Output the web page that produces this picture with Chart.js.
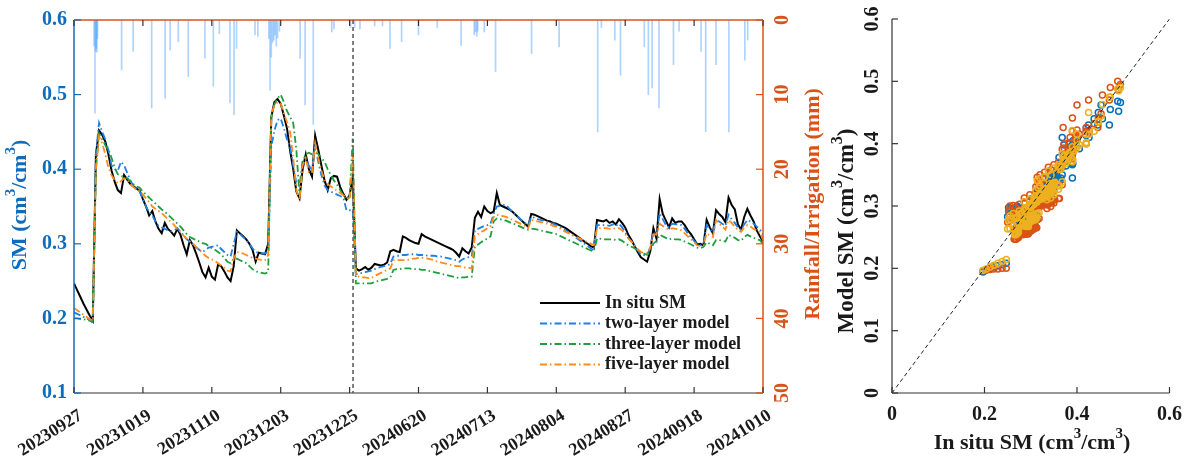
<!DOCTYPE html>
<html>
<head>
<meta charset="utf-8">
<script src="https://cdn.jsdelivr.net/npm/chart.js@4.4.1/dist/chart.umd.min.js"></script>
<style>
body { margin: 0; background: #fff; width: 1192px; height: 464px; overflow: hidden; position: relative; }
#ts { position: absolute; left: 0; top: 0; }
#sc { position: absolute; left: 820px; top: 0; }
</style>
</head>
<body>
<canvas id="ts" width="840" height="464"></canvas>
<canvas id="sc" width="372" height="464"></canvas>
<script>
// x positions are day steps, one label every 22 steps
const dateLabels = ["20230927", "20231019", "20231110", "20231203", "20231225", "20240620",
    "20240713", "20240804", "20240827", "20240918", "20241010"];
const dateStep = 22;
const breakAt = 89.1; // dashed line between the two campaigns

const smTicks = [0.1, 0.2, 0.3, 0.4, 0.5, 0.6];
const rainTicks = [0, 10, 20, 30, 40, 50];
const scXTicks = [0, 0.2, 0.4, 0.6];
const scXLabels = ["0", "0.2", "0.4", "0.6"];
const scYTicks = [0, 0.1, 0.2, 0.3, 0.4, 0.5, 0.6];
const scYLabels = ["0", "0.1", "0.2", "0.3", "0.4", "0.5", "0.6"];
const oneToOne = [0, 0.6];

const insitu = [
    0.247, 0.238, 0.229, 0.220, 0.212, 0.204, 0.197, 0.420, 0.452, 0.446,
    0.437, 0.420, 0.398, 0.383, 0.372, 0.368, 0.392, 0.386, 0.380, 0.377,
    0.374, 0.371, 0.360, 0.350, 0.338, 0.344, 0.330, 0.320, 0.314, 0.328,
    0.320, 0.316, 0.311, 0.320, 0.312, 0.298, 0.286, 0.305, 0.298, 0.287,
    0.275, 0.262, 0.255, 0.268, 0.256, 0.252, 0.272, 0.270, 0.263, 0.255,
    0.250, 0.270, 0.318, 0.314, 0.310, 0.306, 0.300, 0.292, 0.276, 0.288,
    0.287, 0.286, 0.300, 0.470, 0.490, 0.494, 0.488, 0.472, 0.455, 0.425,
    0.400, 0.370, 0.361, 0.400, 0.420, 0.400, 0.390, 0.445, 0.426, 0.405,
    0.385, 0.372, 0.388, 0.391, 0.390, 0.376, 0.367, 0.359, 0.365, 0.390,
    0.267, 0.264, 0.266, 0.269, 0.265, 0.268, 0.273, 0.272, 0.271, 0.272,
    0.275, 0.290, 0.292, 0.290, 0.289, 0.310, 0.308, 0.305, 0.303, 0.301,
    0.300, 0.313, 0.310, 0.308, 0.306, 0.304, 0.302, 0.300, 0.298, 0.296,
    0.294, 0.292, 0.288, 0.283, 0.294, 0.290, 0.287, 0.295, 0.335, 0.343,
    0.336, 0.350, 0.344, 0.341, 0.343, 0.368, 0.352, 0.350, 0.348, 0.346,
    0.343, 0.339, 0.335, 0.331, 0.327, 0.323, 0.340, 0.339, 0.337, 0.335,
    0.333, 0.331, 0.330, 0.328, 0.327, 0.325, 0.323, 0.321, 0.318, 0.315,
    0.312, 0.309, 0.306, 0.303, 0.300, 0.297, 0.295, 0.332, 0.331, 0.330,
    0.332, 0.328, 0.330, 0.326, 0.333, 0.328, 0.322, 0.312, 0.305, 0.297,
    0.289, 0.282, 0.279, 0.276, 0.290, 0.321, 0.307, 0.360, 0.340, 0.331,
    0.322, 0.334, 0.328, 0.330, 0.330, 0.325, 0.318, 0.313, 0.306, 0.299,
    0.300, 0.298, 0.332, 0.322, 0.314, 0.345, 0.340, 0.336, 0.329, 0.362,
    0.352, 0.346, 0.326, 0.319, 0.336, 0.347, 0.338, 0.330, 0.318, 0.310,
    0.303
];
const twoLayer = [
    0.208, 0.206, 0.204, 0.202, 0.200, 0.198, 0.194, 0.420, 0.462, 0.450,
    0.440, 0.425, 0.405, 0.400, 0.398, 0.410, 0.405, 0.395, 0.385, 0.378,
    0.373, 0.370, 0.360, 0.350, 0.342, 0.338, 0.330, 0.324, 0.322, 0.320,
    0.318, 0.317, 0.318, 0.321, 0.316, 0.311, 0.306, 0.303, 0.299, 0.295,
    0.292, 0.289, 0.292, 0.295, 0.296, 0.297, 0.298, 0.293, 0.289, 0.285,
    0.283, 0.300, 0.316, 0.313, 0.309, 0.305, 0.300, 0.294, 0.289, 0.288,
    0.287, 0.287, 0.290, 0.430, 0.452, 0.466, 0.468, 0.455, 0.440, 0.430,
    0.405, 0.381, 0.378, 0.410, 0.413, 0.405, 0.398, 0.430, 0.410, 0.392,
    0.378, 0.372, 0.370, 0.368, 0.366, 0.364, 0.362, 0.345, 0.345, 0.345,
    0.259, 0.260, 0.261, 0.262, 0.263, 0.264, 0.266, 0.268, 0.269, 0.270,
    0.271, 0.273, 0.283, 0.284, 0.284, 0.285, 0.285, 0.286, 0.286, 0.286,
    0.285, 0.285, 0.285, 0.284, 0.284, 0.284, 0.283, 0.283, 0.282, 0.281,
    0.280, 0.279, 0.278, 0.276, 0.279, 0.281, 0.282, 0.283, 0.318, 0.320,
    0.322, 0.324, 0.325, 0.327, 0.340, 0.350, 0.351, 0.352, 0.352, 0.347,
    0.343, 0.339, 0.335, 0.331, 0.328, 0.325, 0.336, 0.335, 0.333, 0.332,
    0.331, 0.330, 0.328, 0.327, 0.325, 0.323, 0.321, 0.318, 0.315, 0.312,
    0.309, 0.306, 0.303, 0.300, 0.297, 0.294, 0.291, 0.325, 0.325, 0.325,
    0.325, 0.324, 0.326, 0.324, 0.327, 0.322, 0.316, 0.308, 0.303, 0.297,
    0.291, 0.286, 0.285, 0.285, 0.295, 0.316, 0.310, 0.341, 0.333, 0.325,
    0.322, 0.327, 0.326, 0.326, 0.325, 0.320, 0.314, 0.309, 0.304, 0.299,
    0.298, 0.300, 0.325, 0.320, 0.315, 0.332, 0.330, 0.327, 0.324, 0.339,
    0.333, 0.328, 0.322, 0.319, 0.326, 0.332, 0.330, 0.327, 0.323, 0.320,
    0.312
];
const threeLayer = [
    0.200, 0.200, 0.199, 0.199, 0.198, 0.197, 0.196, 0.400, 0.448, 0.440,
    0.432, 0.426, 0.415, 0.402, 0.393, 0.391, 0.390, 0.388, 0.384, 0.380,
    0.377, 0.375, 0.370, 0.366, 0.362, 0.358, 0.354, 0.350, 0.346, 0.343,
    0.339, 0.335, 0.331, 0.327, 0.323, 0.318, 0.313, 0.309, 0.307, 0.305,
    0.303, 0.301, 0.300, 0.297, 0.294, 0.292, 0.289, 0.286, 0.281, 0.276,
    0.274, 0.280, 0.280, 0.278, 0.276, 0.274, 0.270, 0.266, 0.263, 0.262,
    0.261, 0.260, 0.262, 0.470, 0.487, 0.495, 0.500, 0.490, 0.478, 0.470,
    0.462, 0.426, 0.365, 0.410, 0.420, 0.422, 0.420, 0.426, 0.420, 0.415,
    0.410, 0.400, 0.392, 0.385, 0.379, 0.372, 0.365, 0.359, 0.363, 0.441,
    0.247, 0.247, 0.247, 0.247, 0.247, 0.247, 0.249, 0.250, 0.251, 0.252,
    0.253, 0.255, 0.265, 0.266, 0.266, 0.267, 0.267, 0.267, 0.266, 0.266,
    0.266, 0.265, 0.265, 0.264, 0.263, 0.262, 0.261, 0.260, 0.259, 0.258,
    0.257, 0.256, 0.255, 0.254, 0.255, 0.255, 0.256, 0.256, 0.296, 0.299,
    0.302, 0.305, 0.307, 0.310, 0.330, 0.334, 0.333, 0.332, 0.331, 0.329,
    0.327, 0.326, 0.324, 0.322, 0.320, 0.319, 0.320, 0.320, 0.319, 0.318,
    0.317, 0.316, 0.315, 0.314, 0.313, 0.311, 0.309, 0.307, 0.305, 0.303,
    0.301, 0.299, 0.297, 0.295, 0.293, 0.291, 0.290, 0.307, 0.307, 0.306,
    0.306, 0.306, 0.306, 0.305, 0.306, 0.304, 0.301, 0.298, 0.296, 0.294,
    0.291, 0.289, 0.287, 0.285, 0.290, 0.300, 0.304, 0.312, 0.310, 0.308,
    0.306, 0.307, 0.306, 0.306, 0.305, 0.303, 0.301, 0.299, 0.297, 0.295,
    0.294, 0.296, 0.302, 0.300, 0.298, 0.305, 0.305, 0.304, 0.303, 0.312,
    0.310, 0.308, 0.305, 0.304, 0.309, 0.312, 0.310, 0.308, 0.306, 0.305,
    0.300
];
const fiveLayer = [
    0.214, 0.211, 0.208, 0.205, 0.202, 0.199, 0.197, 0.400, 0.444, 0.435,
    0.420, 0.402, 0.392, 0.385, 0.381, 0.384, 0.388, 0.385, 0.380, 0.376,
    0.373, 0.371, 0.366, 0.361, 0.356, 0.350, 0.347, 0.344, 0.341, 0.337,
    0.333, 0.329, 0.325, 0.320, 0.316, 0.311, 0.307, 0.303, 0.300, 0.296,
    0.292, 0.288, 0.284, 0.281, 0.279, 0.277, 0.274, 0.271, 0.268, 0.264,
    0.263, 0.280, 0.289, 0.288, 0.287, 0.285, 0.283, 0.281, 0.280, 0.279,
    0.278, 0.278, 0.285, 0.475, 0.485, 0.490, 0.488, 0.475, 0.463, 0.450,
    0.415, 0.372, 0.359, 0.405, 0.415, 0.396, 0.395, 0.435, 0.415, 0.398,
    0.386, 0.380, 0.377, 0.374, 0.371, 0.368, 0.365, 0.363, 0.359, 0.421,
    0.257, 0.256, 0.255, 0.255, 0.254, 0.254, 0.257, 0.259, 0.261, 0.263,
    0.265, 0.267, 0.278, 0.278, 0.278, 0.278, 0.278, 0.279, 0.280, 0.280,
    0.281, 0.281, 0.281, 0.280, 0.279, 0.278, 0.276, 0.275, 0.274, 0.273,
    0.272, 0.271, 0.270, 0.270, 0.269, 0.268, 0.268, 0.267, 0.310, 0.313,
    0.316, 0.318, 0.321, 0.324, 0.336, 0.339, 0.338, 0.337, 0.336, 0.334,
    0.332, 0.330, 0.328, 0.326, 0.324, 0.321, 0.332, 0.331, 0.330, 0.329,
    0.328, 0.327, 0.326, 0.324, 0.323, 0.321, 0.318, 0.316, 0.314, 0.312,
    0.310, 0.308, 0.306, 0.304, 0.302, 0.300, 0.298, 0.321, 0.321, 0.321,
    0.321, 0.320, 0.321, 0.320, 0.321, 0.318, 0.313, 0.307, 0.303, 0.298,
    0.293, 0.289, 0.288, 0.287, 0.295, 0.312, 0.313, 0.327, 0.324, 0.321,
    0.319, 0.321, 0.320, 0.320, 0.318, 0.314, 0.310, 0.306, 0.302, 0.298,
    0.297, 0.298, 0.314, 0.311, 0.309, 0.332, 0.327, 0.323, 0.319, 0.332,
    0.328, 0.323, 0.318, 0.316, 0.322, 0.325, 0.323, 0.320, 0.318, 0.316,
    0.305
];

// rainfall / irrigation events: position (day step) and depth in mm
const rainAt = [6.4, 6.7, 6.9, 7.1, 7.3, 7.5, 15.2, 18.9, 24.8, 29.1, 30.7, 33.3, 36.5, 41.8,
    44.5, 46.4, 49.8, 51.1, 51.9, 57.8, 58.7, 62.2, 62.6, 63.0, 63.4, 63.8, 64.2, 64.6, 65.0,
    65.6, 72.2, 73.8, 76.4, 82.3, 83.0, 88.3, 89.6, 91.3, 96.0, 98.5, 100.9, 104.6, 110.0,
    116.0, 123.6, 127.8, 128.2, 128.6, 128.9, 131.0, 134.6, 146.1, 154.9, 167.2, 168.4,
    172.7, 174.5, 182.1, 183.4, 184.6, 186.8, 191.4, 193.2, 200.2, 201.7, 205.0, 209.1,
    214.2, 215.1];
const rainMm = [3.5, 12.5, 4.2, 3.8, 4.3, 2.5, 6.7, 4.2, 11.8, 10.5, 4.0, 2.9, 7.6, 5.1,
    8.9, 1.8, 11.1, 12.7, 3.8, 2.0, 2.2, 2.5, 9.4, 5.0, 3.0, 2.7, 2.0, 3.5, 2.4,
    1.5, 5.1, 11.4, 14.0, 1.6, 1.2, 1.0, 1.0, 1.2, 0.8, 0.8, 3.8, 2.9, 2.0,
    1.0, 3.4, 2.0, 1.6, 2.2, 1.5, 1.6, 6.9, 4.5, 3.6, 15.0, 1.0,
    2.7, 7.4, 3.6, 10.0, 9.1, 11.8, 6.0, 1.5, 4.2, 15.0, 6.0, 15.0,
    5.4, 2.7];

const FONT = '"Liberation Serif", "Times New Roman", serif';
const SM_BLUE = "#0F6CBD";
const RAIN_RED = "#D95319";
const AXIS_GRAY = "#333333";
const TEXT = "#1a1a1a";

Chart.defaults.font.family = FONT;
Chart.defaults.font.weight = "bold";
Chart.defaults.font.size = 20;
Chart.defaults.color = TEXT;
Chart.defaults.animation = false;

const seriesStyle = [
    { label: "In situ SM", data: insitu, color: "#000000", dash: [], width: 2 },
    { label: "two-layer model", data: twoLayer, color: "#1F7FE5", dash: [7, 3, 1.5, 3], width: 1.8 },
    { label: "three-layer model", data: threeLayer, color: "#1E9E3E", dash: [7, 3, 1.5, 3], width: 1.8 },
    { label: "five-layer model", data: fiveLayer, color: "#FF8C1A", dash: [7, 3, 1.5, 3], width: 1.8 }
];

const unitParts = [{ t: " (cm" }, { t: "3", sup: true }, { t: "/cm" }, { t: "3", sup: true }, { t: ")" }];

function stroke(ctx, x1, y1, x2, y2, color, width) {
    ctx.beginPath();
    ctx.strokeStyle = color;
    ctx.lineWidth = width || 1;
    ctx.moveTo(x1, y1);
    ctx.lineTo(x2, y2);
    ctx.stroke();
}

function rich_width(ctx, parts, size) {
    let w = 0;
    for (const p of parts) {
        ctx.font = "bold " + (p.sup ? Math.round(size * 0.68) : size) + "px " + FONT;
        w += ctx.measureText(p.t).width;
    }
    return w;
}

function draw_rich(ctx, parts, cx, cy, size, color, rot) {
    ctx.save();
    ctx.translate(cx, cy);
    ctx.rotate(rot || 0);
    ctx.fillStyle = color;
    ctx.textBaseline = "middle";
    ctx.textAlign = "left";
    let x = -rich_width(ctx, parts, size) / 2;
    for (const p of parts) {
        ctx.font = "bold " + (p.sup ? Math.round(size * 0.68) : size) + "px " + FONT;
        ctx.fillText(p.t, x, p.sup ? -size * 0.4 : 0);
        x += ctx.measureText(p.t).width;
    }
    ctx.restore();
}

function draw_text(ctx, text, cx, cy, size, color, rot) {
    draw_rich(ctx, [{ t: text }], cx, cy, size, color, rot);
}

const tsDecor = {
    id: "tsDecor",
    afterDraw(chart) {
        const ctx = chart.ctx;
        const a = chart.chartArea;
        const { x, y, y2 } = chart.scales;
        ctx.save();
        ctx.setLineDash([]);
        stroke(ctx, a.left, a.bottom, a.right, a.bottom, AXIS_GRAY, 1.2);
        stroke(ctx, a.left, a.top, a.right, a.top, RAIN_RED, 1.5);
        stroke(ctx, a.left, a.top, a.left, a.bottom, SM_BLUE, 1.5);
        stroke(ctx, a.right, a.top, a.right, a.bottom, RAIN_RED, 1.5);
        dateLabels.forEach((d, k) => {
            const px = x.getPixelForValue(k * dateStep);
            stroke(ctx, px, a.bottom, px, a.bottom - 6, AXIS_GRAY, 1.2);
            stroke(ctx, px, a.top, px, a.top + 6, AXIS_GRAY, 1.2);
        });
        smTicks.forEach(v => {
            const py = y.getPixelForValue(v);
            stroke(ctx, a.left, py, a.left + 7, py, SM_BLUE, 1.2);
        });
        rainTicks.forEach(v => {
            const py = y2.getPixelForValue(v);
            stroke(ctx, a.right - 7, py, a.right, py, RAIN_RED, 1.2);
            draw_text(ctx, String(v), a.right + 20, py, 20, RAIN_RED, -Math.PI / 2);
        });

        // break between the two periods
        ctx.setLineDash([4, 3]);
        const bx = x.getPixelForValue(breakAt);
        stroke(ctx, bx, a.top, bx, a.bottom, "#555555", 1.5);
        ctx.setLineDash([]);

        draw_rich(ctx, [{ t: "SM" }].concat(unitParts), 20, 205, 22, SM_BLUE, -Math.PI / 2);
        draw_text(ctx, "Rainfall/Irrigation (mm)", a.right + 50, 204, 22, RAIN_RED, -Math.PI / 2);

        // legend
        seriesStyle.forEach((s, k) => {
            const ly = 303 + k * 20.5;
            ctx.setLineDash(s.dash);
            stroke(ctx, 540, ly, 600, ly, s.color, s.width);
            ctx.setLineDash([]);
            ctx.font = "bold 18px " + FONT;
            ctx.fillStyle = TEXT;
            ctx.textAlign = "left";
            ctx.textBaseline = "middle";
            ctx.fillText(s.label, 605, ly);
        });
        ctx.restore();
    }
};

const tsDatasets = seriesStyle.map((s, k) => ({
    type: "line",
    label: s.label,
    data: s.data.map((v, i) => ({ x: i, y: v })),
    borderColor: s.color,
    borderWidth: s.width,
    borderDash: s.dash,
    pointRadius: 0,
    tension: 0,
    fill: false,
    yAxisID: "y",
    order: 4 - k
}));
tsDatasets.push({
    type: "bar",
    label: "Rainfall/Irrigation",
    data: rainAt.map((p, k) => ({ x: p, y: rainMm[k] })),
    backgroundColor: "rgba(60,150,255,0.42)",
    borderWidth: 0,
    barThickness: 1,
    yAxisID: "y2",
    order: 5
});

new Chart(document.getElementById("ts"), {
    type: "line",
    data: { datasets: tsDatasets },
    options: {
        responsive: false,
        devicePixelRatio: 1,
        layout: { padding: { top: 20, left: 0, right: 0, bottom: 0 } },
        plugins: { legend: { display: false }, tooltip: { enabled: false } },
        scales: {
            x: {
                type: "linear",
                offset: false,
                min: 0,
                max: dateStep * (dateLabels.length - 1),
                grid: { display: false, drawTicks: false, offset: false },
                border: { display: false },
                afterBuildTicks: s => { s.ticks = dateLabels.map((d, k) => ({ value: k * dateStep })); },
                afterFit: s => { s.height = 71; },
                ticks: {
                    autoSkip: false,
                    minRotation: 32,
                    maxRotation: 32,
                    padding: 12,
                    labelOffset: 7,
                    color: TEXT,
                    font: { size: 18, weight: "bold" },
                    callback: (v, idx) => dateLabels[idx]
                }
            },
            y: {
                type: "linear",
                position: "left",
                min: 0.1,
                max: 0.6,
                grid: { display: false, drawTicks: false },
                border: { display: false },
                afterBuildTicks: s => { s.ticks = smTicks.map(v => ({ value: v })); },
                afterFit: s => { s.width = 74; },
                ticks: {
                    padding: 7,
                    color: SM_BLUE,
                    font: { size: 20, weight: "bold" },
                    callback: v => v.toFixed(1)
                }
            },
            y2: {
                type: "linear",
                position: "right",
                reverse: true,
                min: 0,
                max: 50,
                grid: { display: false, drawTicks: false },
                border: { display: false },
                ticks: { display: false },
                afterFit: s => { s.width = 77; }
            }
        }
    },
    plugins: [tsDecor]
});

// scatter: model against in situ
const scatterStyle = [
    { data: twoLayer, color: "#0072BD", order: 4 },
    { data: threeLayer, color: "#D95319", order: 3 },
    { data: fiveLayer, color: "#EDB120", order: 2 }
];

const scDecor = {
    id: "scDecor",
    afterDraw(chart) {
        const ctx = chart.ctx;
        const a = chart.chartArea;
        const { x, y } = chart.scales;
        ctx.save();
        stroke(ctx, a.left, a.bottom, a.right, a.bottom, AXIS_GRAY, 1.2);
        stroke(ctx, a.left, a.top, a.left, a.bottom, AXIS_GRAY, 1.2);
        scXTicks.forEach(v => {
            const px = x.getPixelForValue(v);
            stroke(ctx, px, a.bottom, px, a.bottom - 6, AXIS_GRAY, 1.2);
        });
        scYTicks.forEach((v, k) => {
            const py = y.getPixelForValue(v);
            stroke(ctx, a.left, py, a.left + 6, py, AXIS_GRAY, 1.2);
            draw_text(ctx, scYLabels[k], a.left - 19, py, 20, TEXT, -Math.PI / 2);
        });
        draw_rich(ctx, [{ t: "Model SM" }].concat(unitParts), 27, 231, 23, TEXT, -Math.PI / 2);
        draw_rich(ctx, [{ t: "In situ SM" }].concat(unitParts), 212, 443, 22, TEXT, 0);
        ctx.restore();
    }
};

const scDatasets = scatterStyle.map(s => ({
    type: "scatter",
    data: insitu.map((v, i) => ({ x: v, y: s.data[i] })),
    borderColor: s.color,
    backgroundColor: "rgba(0,0,0,0)",
    pointRadius: 3,
    borderWidth: 1.5,
    order: s.order
}));
scDatasets.push({
    type: "line",
    data: oneToOne.map(v => ({ x: v, y: v })),
    borderColor: "#222222",
    borderWidth: 1,
    borderDash: [4, 3],
    pointRadius: 0,
    order: 1
});

new Chart(document.getElementById("sc"), {
    type: "scatter",
    data: { datasets: scDatasets },
    options: {
        responsive: false,
        devicePixelRatio: 1,
        layout: { padding: { top: 19, right: 20, left: 0, bottom: 0 } },
        plugins: { legend: { display: false }, tooltip: { enabled: false } },
        scales: {
            x: {
                type: "linear",
                min: 0,
                max: 0.6,
                grid: { display: false, drawTicks: false },
                border: { display: false },
                afterBuildTicks: s => { s.ticks = scXTicks.map(v => ({ value: v })); },
                afterFit: s => { s.height = 71; },
                ticks: {
                    padding: 10,
                    color: TEXT,
                    font: { size: 20, weight: "bold" },
                    callback: (v, idx) => scXLabels[idx]
                }
            },
            y: {
                type: "linear",
                min: 0,
                max: 0.6,
                grid: { display: false, drawTicks: false },
                border: { display: false },
                ticks: { display: false },
                afterFit: s => { s.width = 72; }
            }
        }
    },
    plugins: [scDecor]
});
</script>
</body>
</html>
